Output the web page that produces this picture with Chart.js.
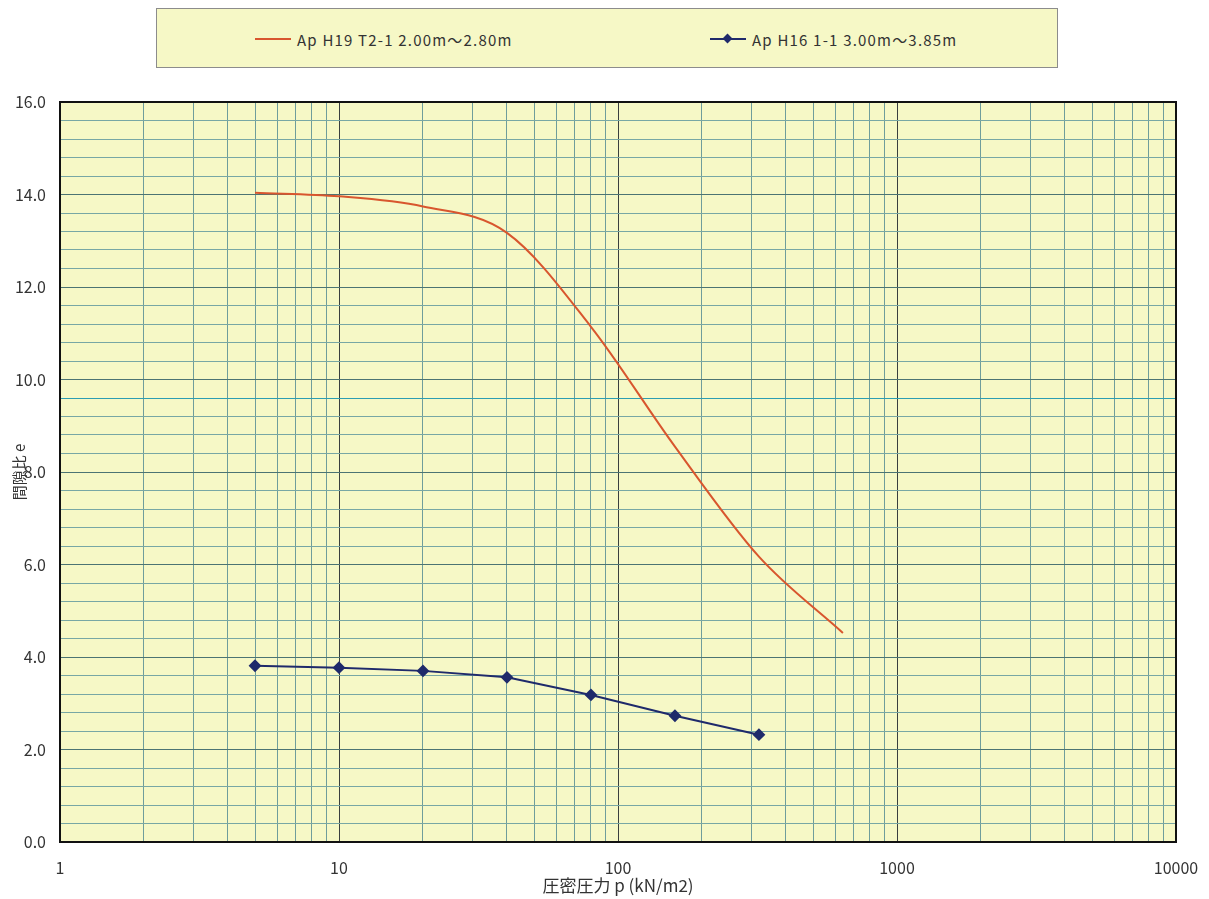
<!DOCTYPE html>
<html>
<head>
<meta charset="utf-8">
<script src="https://cdn.jsdelivr.net/npm/chart.js@4/dist/chart.umd.min.js"></script>
<style>
  body { margin: 0; background: #fff; }
  #wrap { position: relative; width: 1209px; height: 899px; }
  #legend {
    position: absolute; left: 156px; top: 8px; width: 900px; height: 58px;
    background: #f6f8c6; border: 1px solid #8c8c8c;
    font-family: "Noto Sans CJK JP", sans-serif;
    font-size: 15px; letter-spacing: 1.2px; color: #333;
  }
  .item { position: absolute; top: 21px; height: 18px; display: flex; align-items: center; white-space: nowrap; }
  .swatch { position: relative; width: 36px; height: 18px; margin-right: 6px; }
  .swatch .ln { position: absolute; left: 0; right: 0; top: 8px; height: 0; border-top: 2px solid; }
  .swatch .mk { position: absolute; left: 14px; top: 5px; width: 7px; height: 7px; transform: rotate(45deg); }
</style>
</head>
<body>
<div id="wrap">
  <canvas id="consolidationChart" width="1209" height="899"></canvas>
  <div id="legend"></div>
</div>
<script>
const CHART_ID = 'consolidationChart';
const LEGEND_ID = 'legend';

// loading steps (kN/m2) and void ratios
const pressuresH19 = [5, 10, 20, 40, 80, 160, 320, 640];
const voidRatioH19 = [14.04, 13.96, 13.74, 13.17, 11.14, 8.55, 6.17, 4.52];
const pressuresH16 = [5, 10, 20, 40, 80, 160, 320];
const voidRatioH16 = [3.81, 3.77, 3.70, 3.56, 3.18, 2.73, 2.32];

const seriesNames = ['Ap H19 T2-1 2.00m～2.80m', 'Ap H16 1-1 3.00m～3.85m'];
const xTitle = '圧密圧力 p (kN/m2)';
const yTitle = '間隙比 e';

// log grid: labelled decades plus 2..9 inside each decade
const xDecades = [1, 10, 100, 1000, 10000];
const xMinorSteps = [2, 3, 4, 5, 6, 7, 8, 9];

const PLOT_BG = '#f6f8c6';
const TICK_FONT = { family: '"Noto Sans CJK JP", sans-serif', size: 16 };

const toPoints = (xs, ys) => xs.map((x, i) => ({ x: x, y: ys[i] }));
const isMultiple = (v, step) => Math.abs(v / step - Math.round(v / step)) < 1e-6;

const xGridValues = () => {
  const vals = [];
  xDecades.forEach((d, i) => {
    vals.push(d);
    if (i < xDecades.length - 1) xMinorSteps.forEach(m => vals.push(d * m));
  });
  return vals;
};

const plotBackground = {
  id: 'plotBackground',
  beforeDraw(chart) {
    const { ctx, chartArea: a } = chart;
    ctx.save();
    ctx.fillStyle = PLOT_BG;
    ctx.fillRect(a.left, a.top, a.right - a.left, a.bottom - a.top);
    ctx.restore();
  },
  afterDatasetsDraw(chart) {
    const { ctx, chartArea: a } = chart;
    ctx.save();
    ctx.strokeStyle = '#111';
    ctx.lineWidth = 2;
    ctx.strokeRect(a.left, a.top, a.right - a.left, a.bottom - a.top);
    ctx.restore();
  }
};

const data = {
  datasets: [
    {
      label: seriesNames[0],
      data: toPoints(pressuresH19, voidRatioH19),
      borderColor: '#d8562e',
      borderWidth: 2,
      pointRadius: 0,
      cubicInterpolationMode: 'monotone'
    },
    {
      label: seriesNames[1],
      data: toPoints(pressuresH16, voidRatioH16),
      borderColor: '#1f2a6b',
      backgroundColor: '#1f2a6b',
      borderWidth: 2,
      pointStyle: 'rectRot',
      pointRadius: 5,
      pointHoverRadius: 5,
      tension: 0
    }
  ]
};

const config = {
  type: 'line',
  data: data,
  plugins: [plotBackground],
  options: {
    responsive: false,
    animation: false,
    layout: { padding: { top: 102, right: 33, left: 0, bottom: 0 } },
    plugins: {
      legend: { display: false },
      tooltip: { enabled: false }
    },
    scales: {
      x: {
        type: 'logarithmic',
        min: 1,
        max: 10000,
        afterFit: (scale) => {
          scale.height = 57;
          scale.paddingLeft = 0;
          scale.paddingRight = 0;
        },
        afterBuildTicks: (scale) => {
          scale.ticks = xGridValues().map(v => ({ value: v, major: xDecades.includes(v) }));
        },
        border: { display: false },
        grid: {
          drawTicks: false,
          color: (ctx) => (ctx.tick && xDecades.includes(ctx.tick.value)) ? '#3a3f3f' : '#6f9d9b'
        },
        ticks: {
          autoSkip: false,
          maxRotation: 0,
          padding: 16,
          color: '#333',
          font: TICK_FONT,
          callback: (value) => xDecades.includes(value) ? String(value) : ''
        },
        title: {
          display: true,
          text: xTitle,
          color: '#333',
          font: { family: '"Noto Sans CJK JP", sans-serif', size: 17 },
          padding: { top: 0, bottom: 3 }
        }
      },
      y: {
        min: 0,
        max: 16,
        afterFit: (scale) => { scale.width = 60; },
        border: { display: false },
        grid: {
          drawTicks: false,
          color: (ctx) => {
            const v = ctx.tick ? ctx.tick.value : 0;
            if (isMultiple(v, 2)) return '#4c7473';
            if (Math.abs(v - 9.6) < 1e-6) return '#2c9db2';
            return '#78a7a4';
          }
        },
        ticks: {
          stepSize: 0.4,
          maxTicksLimit: 100,
          autoSkip: false,
          padding: 14,
          color: '#333',
          font: TICK_FONT,
          callback: (value) => isMultiple(value, 2) ? value.toFixed(1) : ''
        },
        title: {
          display: true,
          text: yTitle,
          color: '#333',
          font: { family: '"Noto Sans CJK JP", sans-serif', size: 15 },
          padding: { top: 10, bottom: 0 }
        }
      }
    }
  }
};

const buildLegend = (chart) => {
  const box = document.getElementById(LEGEND_ID);
  const offsets = [98, 553];
  chart.data.datasets.forEach((ds, i) => {
    const item = document.createElement('div');
    item.className = 'item';
    item.style.left = offsets[i] + 'px';
    const sw = document.createElement('span');
    sw.className = 'swatch';
    const ln = document.createElement('span');
    ln.className = 'ln';
    ln.style.borderColor = ds.borderColor;
    sw.appendChild(ln);
    if (ds.pointRadius) {
      const mk = document.createElement('span');
      mk.className = 'mk';
      mk.style.background = ds.backgroundColor;
      sw.appendChild(mk);
    }
    const txt = document.createElement('span');
    txt.textContent = ds.label;
    item.appendChild(sw);
    item.appendChild(txt);
    box.appendChild(item);
  });
};

window.onload = () => {
  const chart = new Chart(document.getElementById(CHART_ID), config);
  buildLegend(chart);
};
</script>
</body>
</html>
